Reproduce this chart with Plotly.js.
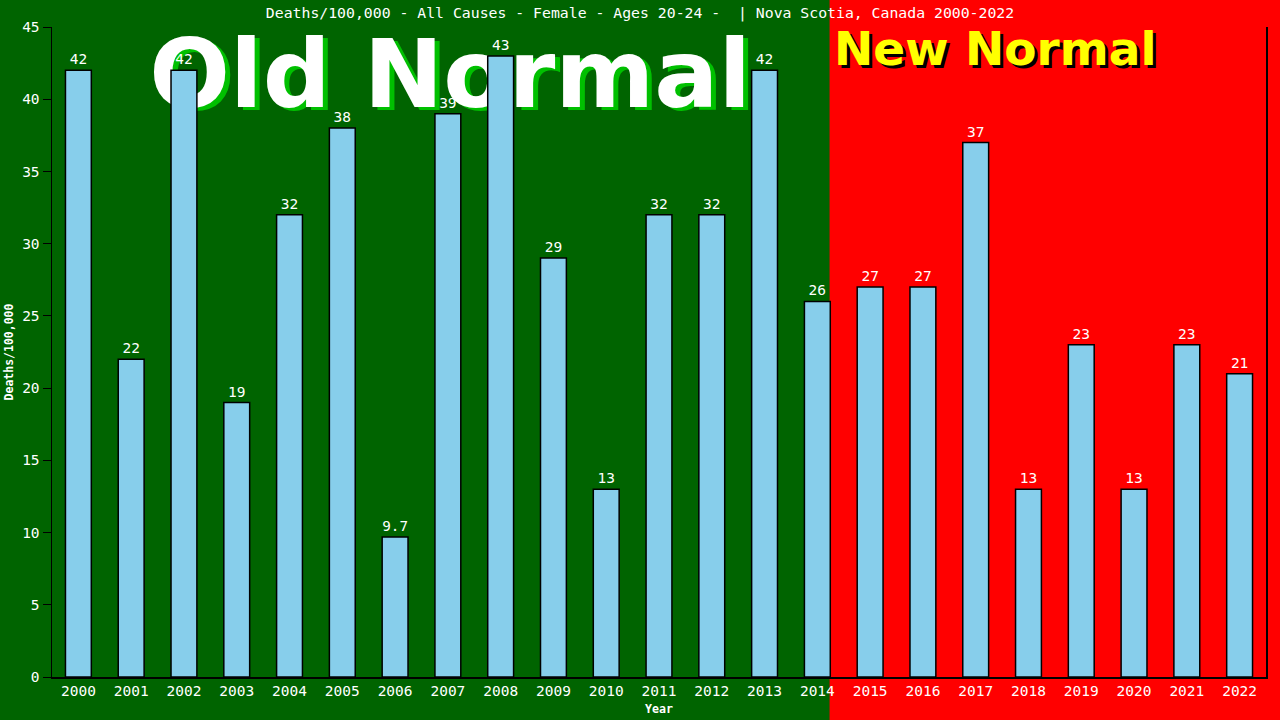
<!DOCTYPE html>
<html>
<head>
<meta charset="utf-8">
<script src="https://cdn.plot.ly/plotly-3.0.1.min.js"></script>
<style>
  html, body { margin: 0; padding: 0; background: #ff0000; }
  #graph { width: 1280px; height: 720px; }
</style>
</head>
<body>
<div id="graph"></div>
<script>
const years = ["2000", "2001", "2002", "2003", "2004", "2005", "2006", "2007", "2008", "2009", "2010", "2011",
    "2012", "2013", "2014", "2015", "2016", "2017", "2018", "2019", "2020", "2021", "2022"];
const deaths = [42, 22, 42, 19, 32, 38, 9.7, 39, 43, 29, 13, 32, 32, 42, 26, 27, 27, 37, 13, 23, 13, 23, 21];

const chartTitle = "Deaths/100,000 - All Causes - Female - Ages 20-24 -  | Nova Scotia, Canada 2000-2022";
const bannerOld = "Old Normal";
const bannerNew = "New Normal";

const mono = "DejaVu Sans Mono, Liberation Mono, monospace";

document.addEventListener("DOMContentLoaded", function () {
    // banners sit on the base subplot so the bars (overlay subplot) cover them
    const oldText = {
        x: [0.328],
        y: [0.913],
        text: [bannerOld],
        mode: "text",
        type: "scatter",
        xaxis: "x",
        yaxis: "y",
        hoverinfo: "skip",
        textposition: "middle center",
        textfont: {
            family: "DejaVu Sans, sans-serif",
            weight: "bold",
            size: 95,
            color: "#ffffff",
            shadow: "5px 3px 0px #00c000"
        }
    };
    const newText = {
        x: [0.777],
        y: [0.960],
        text: [bannerNew],
        mode: "text",
        type: "scatter",
        xaxis: "x",
        yaxis: "y",
        hoverinfo: "skip",
        textposition: "middle center",
        textfont: {
            family: "DejaVu Sans, sans-serif",
            weight: "bold",
            size: 47,
            color: "#ffff00",
            shadow: "3px 3px 0px #000000"
        }
    };

    const bars = {
        x: years,
        y: deaths,
        type: "bar",
        xaxis: "x2",
        yaxis: "y2",
        width: 0.49,
        marker: {
            color: "#87ceeb",
            line: { color: "#000000", width: 1.5 }
        },
        text: deaths.map(String),
        textposition: "outside",
        textfont: { family: mono, size: 14.5, color: "#ffffff" },
        cliponaxis: false,
        hoverinfo: "x+y"
    };

    const layout = {
        width: 1280,
        height: 720,
        margin: { l: 52, r: 14, t: 27, b: 43 },
        paper_bgcolor: "#ff0000",
        plot_bgcolor: "rgba(0,0,0,0)",
        showlegend: false,
        title: {
            text: chartTitle,
            font: { family: mono, size: 14.8, color: "#ffffff" },
            x: 0.5,
            xref: "container",
            y: 0.982,
            yref: "container",
            yanchor: "middle"
        },
        xaxis: { range: [0, 1], visible: false, fixedrange: true },
        yaxis: { range: [0, 1], visible: false, fixedrange: true },
        xaxis2: {
            overlaying: "x",
            anchor: "y2",
            type: "category",
            range: [-0.5, 22.5],
            showline: true,
            linecolor: "#000000",
            linewidth: 1.5,
            ticks: "",
            showgrid: false,
            zeroline: false,
            tickfont: { family: mono, size: 14.5, color: "#ffffff" },
            title: {
                text: "Year",
                font: { family: mono, size: 11.6, color: "#ffffff", weight: "bold" },
                standoff: 7
            }
        },
        yaxis2: {
            overlaying: "y",
            anchor: "x2",
            side: "left",
            range: [0, 45],
            dtick: 5,
            showline: true,
            mirror: true,
            linecolor: "#000000",
            linewidth: 1.5,
            ticks: "outside",
            ticklen: 8,
            tickcolor: "#000000",
            showgrid: false,
            zeroline: false,
            tickfont: { family: mono, size: 14.5, color: "#ffffff" },
            title: {
                text: "Deaths/100,000",
                font: { family: mono, size: 11.5, color: "#ffffff", weight: "bold" },
                standoff: 6
            }
        },
        shapes: [
            {
                type: "rect",
                xref: "paper",
                yref: "paper",
                x0: -0.1,
                x1: 0.6405,
                y0: -0.2,
                y1: 1.2,
                fillcolor: "#006400",
                line: { width: 0 },
                layer: "below"
            }
        ]
    };

    Plotly.newPlot("graph", [oldText, newText, bars], layout, { staticPlot: true });
});
</script>
</body>
</html>
